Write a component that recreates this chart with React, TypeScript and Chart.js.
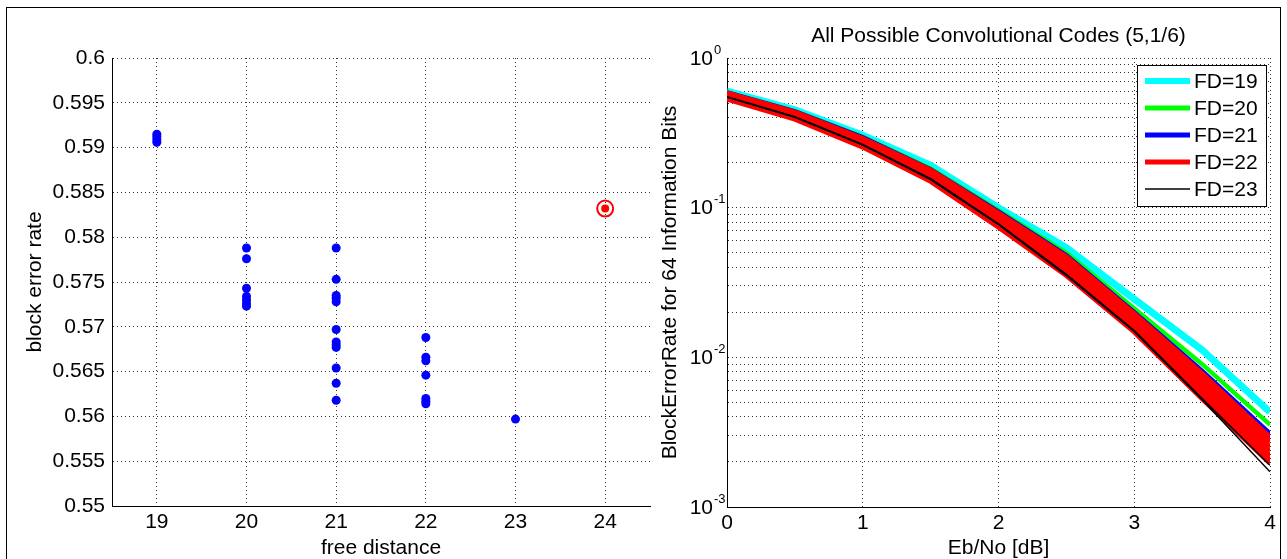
import React, { useEffect, useRef } from 'react';
import { Chart, registerables } from 'chart.js';

Chart.register(...registerables);

const FONT = '"Liberation Sans", Arial, Helvetica, sans-serif';
const FS = 21;

// ---------- Left panel: block error rate vs free distance ----------
const fd19Rates = [0.5915, 0.5912, 0.5909, 0.5906];
const fd20Rates = [0.5788, 0.5776, 0.5743, 0.5734, 0.573, 0.5726, 0.5723];
const fd21Rates = [0.5788, 0.5753, 0.5735, 0.5732, 0.5728, 0.5697, 0.5683, 0.568, 0.5677, 0.5654, 0.5637, 0.5618];
const fd22Rates = [0.5688, 0.5666, 0.5662, 0.5646, 0.562, 0.5617, 0.5614];
const fd23Rates = [0.5597];
const bestFd = 24;
const bestRate = 0.5832;
const leftXTicks = [19, 20, 21, 22, 23, 24];
const leftYTicks = [0.55, 0.555, 0.56, 0.565, 0.57, 0.575, 0.58, 0.585, 0.59, 0.595, 0.6];

// ---------- Right panel: BLER vs Eb/No ----------
const ebNo = [0, 0.5, 1, 1.5, 2, 2.5, 3, 3.5, 4];
const fd19Curve = [0.6, 0.45, 0.305, 0.192, 0.1, 0.054, 0.0245, 0.0112, 0.0043];
const fd20Curve = [0.59, 0.442, 0.297, 0.183, 0.096, 0.05, 0.0212, 0.009, 0.00355];
const fd21CurveA = [0.59, 0.44, 0.295, 0.18, 0.094, 0.048, 0.02, 0.0081, 0.0031];
const fd21CurveB = [0.58, 0.435, 0.29, 0.176, 0.091, 0.046, 0.019, 0.0077, 0.0029];
const fd22CurveA = [0.585, 0.435, 0.29, 0.178, 0.092, 0.047, 0.0196, 0.0078, 0.00292];
const fd22CurveB = [0.575, 0.428, 0.284, 0.173, 0.089, 0.045, 0.0187, 0.0073, 0.00272];
const fd22CurveC = [0.566, 0.42, 0.278, 0.168, 0.086, 0.043, 0.0178, 0.0068, 0.00253];
const fd22CurveD = [0.557, 0.412, 0.272, 0.163, 0.083, 0.041, 0.017, 0.0064, 0.00236];
const fd22CurveE = [0.548, 0.404, 0.266, 0.158, 0.08, 0.039, 0.0162, 0.006, 0.0022];
const fd22CurveF = [0.539, 0.397, 0.26, 0.154, 0.077, 0.037, 0.0155, 0.0056, 0.00206];
const fd22CurveG = [0.53, 0.39, 0.254, 0.15, 0.074, 0.0352, 0.0148, 0.0053, 0.00196];
const fd23CurveA = [0.552, 0.405, 0.265, 0.156, 0.078, 0.0358, 0.0151, 0.0053, 0.0019];
const fd23CurveB = [0.548, 0.402, 0.262, 0.154, 0.077, 0.0352, 0.0149, 0.0052, 0.00172];
const rightXTicks = [0, 1, 2, 3, 4];
const rightYExponents = [0, -1, -2, -3];
const rightYGrid = [
  0.001, 0.002, 0.003, 0.004, 0.005, 0.006, 0.007, 0.008, 0.009,
  0.01, 0.02, 0.03, 0.04, 0.05, 0.06, 0.07, 0.08, 0.09,
  0.1, 0.2, 0.3, 0.4, 0.5, 0.6, 0.7, 0.8, 0.9, 1,
];
const legendLabels = ['FD=19', 'FD=20', 'FD=21', 'FD=22', 'FD=23'];
const legendColors = ['#00ffff', '#00ff00', '#0000ff', '#ff0000', '#000000'];
const legendWidths = [6, 5, 5, 5, 1.5];

const GRID = { color: '#333', lineWidth: 1, drawTicks: false };
const BORDER = { color: '#000', width: 1, dash: [1, 3] };

function pts(x: number, ys: number[]) {
  return ys.map((y) => ({ x, y }));
}
function curve(ys: number[]) {
  return ys.map((y, i) => ({ x: ebNo[i], y }));
}

const logTickPlugin = {
  id: 'logTickLabels',
  afterDraw(chart: any) {
    const ctx = chart.ctx;
    const ys = chart.scales.y;
    const baseX = chart.chartArea.left - 14;
    ctx.save();
    ctx.fillStyle = '#000';
    rightYExponents.forEach((e) => {
      const y = ys.getPixelForValue(Math.pow(10, e));
      ctx.font = `${FS}px ${FONT}`;
      ctx.textAlign = 'right';
      ctx.textBaseline = 'middle';
      ctx.fillText('10', baseX, y + 1);
      ctx.font = `13px ${FONT}`;
      ctx.textAlign = 'left';
      ctx.fillText(String(e), baseX + 1, y - 8);
    });
    ctx.restore();
  },
};

const legendPlugin = {
  id: 'boxLegend',
  afterDraw(chart: any) {
    const ctx = chart.ctx;
    const right = chart.chartArea.right - 4;
    const top = chart.chartArea.top + 7;
    const w = 129;
    const rowH = 27;
    const h = 141;
    const left = right - w;
    ctx.save();
    ctx.fillStyle = '#fff';
    ctx.fillRect(left, top, w, h);
    ctx.strokeStyle = '#000';
    ctx.lineWidth = 1;
    ctx.strokeRect(Math.round(left) + 0.5, Math.round(top) + 0.5, w, h);
    legendLabels.forEach((lab, i) => {
      const y = top + 16 + i * rowH;
      ctx.beginPath();
      ctx.strokeStyle = legendColors[i];
      ctx.lineWidth = legendWidths[i];
      ctx.moveTo(left + 8, y);
      ctx.lineTo(left + 53, y);
      ctx.stroke();
      ctx.fillStyle = '#000';
      ctx.font = `${FS}px ${FONT}`;
      ctx.textAlign = 'left';
      ctx.textBaseline = 'middle';
      ctx.fillText(lab, left + 57, y + 1);
    });
    ctx.restore();
  },
};

function LeftChart() {
  const ref = useRef<HTMLCanvasElement>(null);
  useEffect(() => {
    const blue = [
      ...pts(19, fd19Rates),
      ...pts(20, fd20Rates),
      ...pts(21, fd21Rates),
      ...pts(22, fd22Rates),
      ...pts(23, fd23Rates),
    ];
    const chart = new Chart(ref.current as HTMLCanvasElement, {
      type: 'scatter',
      data: {
        datasets: [
          { label: 'codes', data: blue, pointRadius: 4.5, pointBackgroundColor: '#0000ff', pointBorderWidth: 0 },
          { label: 'best ring', data: [{ x: bestFd, y: bestRate }], pointRadius: 8, pointBackgroundColor: 'rgba(0,0,0,0)', pointBorderColor: '#ff0000', pointBorderWidth: 2 },
          { label: 'best', data: [{ x: bestFd, y: bestRate }], pointRadius: 4, pointBackgroundColor: '#ff0000', pointBorderWidth: 0 },
        ],
      },
      options: {
        animation: false,
        responsive: false,
        layout: { padding: { top: 58, right: 10, left: 0, bottom: 0 } },
        plugins: { legend: { display: false }, tooltip: { enabled: false } },
        scales: {
          x: {
            type: 'linear',
            min: 18.5,
            max: 24.5,
            afterBuildTicks: (s: any) => { s.ticks = leftXTicks.map((v) => ({ value: v })); },
            afterFit: (s: any) => { s.height = 53; },
            grid: GRID,
            border: BORDER,
            ticks: { padding: 4, color: '#000', font: { family: FONT, size: FS }, autoSkip: false, maxRotation: 0, callback: (v: any) => String(v) },
            title: { display: true, text: 'free distance', color: '#000', font: { family: FONT, size: FS, lineHeight: 1 }, padding: { top: 0, bottom: 0.5 } },
          },
          y: {
            type: 'linear',
            min: 0.55,
            max: 0.6,
            afterBuildTicks: (s: any) => { s.ticks = leftYTicks.map((v) => ({ value: v })); },
            afterFit: (s: any) => { s.width = 112; },
            grid: GRID,
            border: BORDER,
            ticks: { padding: 7, color: '#000', font: { family: FONT, size: FS }, autoSkip: false, callback: (v: any) => String(parseFloat(Number(v).toFixed(3))) },
            title: { display: true, text: 'block error rate', color: '#000', font: { family: FONT, size: FS, lineHeight: 1 }, padding: { top: 24.5, bottom: 0 } },
          },
        },
      },
    } as any);
    return () => chart.destroy();
  }, []);
  return <canvas ref={ref} width={660} height={559} style={{ position: 'absolute', left: 0, top: 0, width: 660, height: 559 }} />;
}

function RightChart() {
  const ref = useRef<HTMLCanvasElement>(null);
  useEffect(() => {
    const line = (ys: number[], color: string, width: number, order: number) => ({
      data: curve(ys),
      borderColor: color,
      backgroundColor: color,
      borderWidth: width,
      pointRadius: 0,
      tension: 0,
      fill: false,
      order,
    });
    const chart = new Chart(ref.current as HTMLCanvasElement, {
      type: 'line',
      data: {
        datasets: [
          { label: legendLabels[0], ...line(fd19Curve, legendColors[0], 7, 50) },
          { label: legendLabels[1], ...line(fd20Curve, legendColors[1], 4.5, 40) },
          { label: legendLabels[2], ...line(fd21CurveA, legendColors[2], 4.5, 31) },
          { label: legendLabels[2], ...line(fd21CurveB, legendColors[2], 4.5, 30) },
          { label: legendLabels[3], ...line(fd22CurveA, legendColors[3], 5, 26) },
          { label: legendLabels[3], ...line(fd22CurveB, legendColors[3], 5, 25) },
          { label: legendLabels[3], ...line(fd22CurveC, legendColors[3], 5, 24) },
          { label: legendLabels[3], ...line(fd22CurveD, legendColors[3], 5, 23) },
          { label: legendLabels[3], ...line(fd22CurveE, legendColors[3], 5, 22) },
          { label: legendLabels[3], ...line(fd22CurveF, legendColors[3], 5, 21) },
          { label: legendLabels[3], ...line(fd22CurveG, legendColors[3], 5, 20) },
          { label: legendLabels[4], ...line(fd23CurveA, legendColors[4], 1.5, 11) },
          { label: legendLabels[4], ...line(fd23CurveB, legendColors[4], 1.5, 10) },
        ],
      },
      options: {
        animation: false,
        responsive: false,
        layout: { padding: { top: 0, right: 17, left: 0, bottom: 0 } },
        plugins: {
          legend: { display: false },
          tooltip: { enabled: false },
          title: {
            display: true,
            text: 'All Possible Convolutional Codes (5,1/6)',
            color: '#000',
            fullSize: false,
            font: { family: FONT, size: FS, weight: 'normal', lineHeight: 1 },
            padding: { top: 25.5, bottom: 11.5 },
          },
        },
        scales: {
          x: {
            type: 'linear',
            min: 0,
            max: 4,
            afterBuildTicks: (s: any) => { s.ticks = rightXTicks.map((v) => ({ value: v })); },
            afterFit: (s: any) => { s.height = 52; },
            grid: GRID,
            border: BORDER,
            ticks: { padding: 4, color: '#000', font: { family: FONT, size: FS }, autoSkip: false, maxRotation: 0, callback: (v: any) => String(v) },
            title: { display: true, text: 'Eb/No [dB]', color: '#000', font: { family: FONT, size: FS, lineHeight: 1 }, padding: { top: 0, bottom: 0.5 } },
          },
          y: {
            type: 'logarithmic',
            min: 0.001,
            max: 1,
            afterBuildTicks: (s: any) => { s.ticks = rightYGrid.map((v) => ({ value: v })); },
            afterFit: (s: any) => { s.width = 67; },
            grid: GRID,
            border: BORDER,
            ticks: { display: false },
            title: { display: true, text: 'BlockErrorRate for 64 Information Bits', color: '#000', font: { family: FONT, size: FS, lineHeight: 1 }, padding: { top: 0, bottom: 0 } },
          },
        },
      },
      plugins: [logTickPlugin, legendPlugin],
    } as any);
    return () => chart.destroy();
  }, []);
  return <canvas ref={ref} width={627} height={559} style={{ position: 'absolute', left: 660, top: 0, width: 627, height: 559 }} />;
}

export default function App() {
  return (
    <div style={{ position: 'fixed', left: 0, top: 0, width: 1287, height: 559, background: '#fff', overflow: 'hidden' }}>
      <div style={{ position: 'absolute', left: 6, top: 7, width: 1275, height: 600, border: '1px solid #000', boxSizing: 'border-box' }} />
      <LeftChart />
      <RightChart />
    </div>
  );
}
